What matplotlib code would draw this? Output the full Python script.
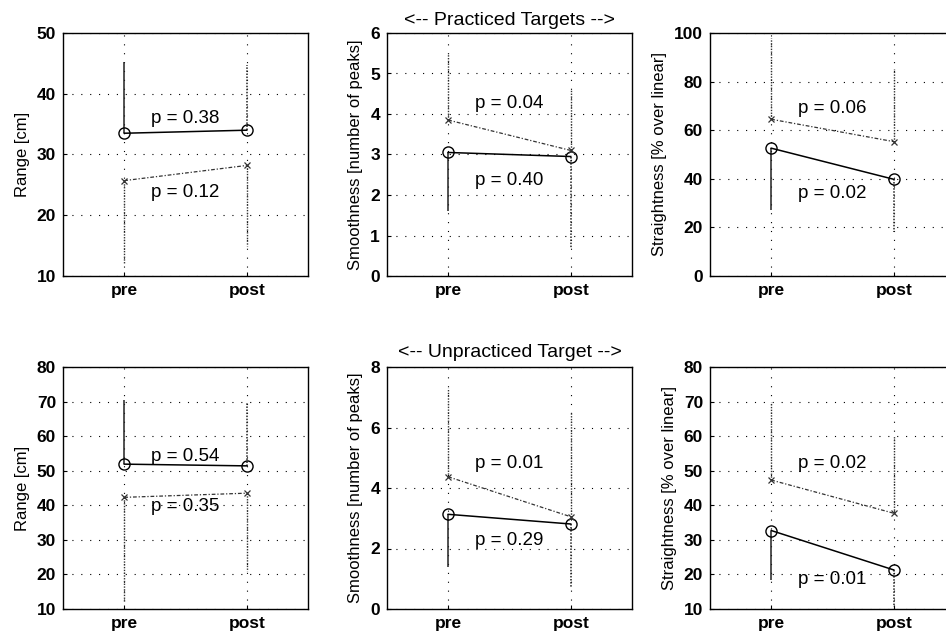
import numpy as np
import matplotlib.pyplot as plt

plt.rcParams['font.family'] = ['Liberation Sans', 'DejaVu Sans']

phases = ['pre', 'post']
xpos = [1, 2]

# practiced targets (top row)
range_prac_o = [33.5, 34.0]
range_prac_o_bar = [45.3, 44.7]
range_prac_x = [25.7, 28.2]
range_prac_x_bar = [12.0, 15.0]
range_prac_p = ['p = 0.38', 'p = 0.12']
range_prac_py = [36.0, 23.7]

smooth_prac_o = [3.05, 2.95]
smooth_prac_o_bar = [1.6, 0.7]
smooth_prac_x = [3.85, 3.1]
smooth_prac_x_bar = [5.5, 4.6]
smooth_prac_p = ['p = 0.40', 'p = 0.04']
smooth_prac_py = [2.37, 4.27]

straight_prac_o = [52.6, 39.8]
straight_prac_o_bar = [27.2, 18.2]
straight_prac_x = [64.5, 55.3]
straight_prac_x_bar = [98.0, 85.0]
straight_prac_p = ['p = 0.02', 'p = 0.06']
straight_prac_py = [34.0, 69.0]

# unpracticed target (bottom row)
range_unp_o = [51.9, 51.4]
range_unp_o_bar = [70.5, 70.0]
range_unp_x = [42.3, 43.5]
range_unp_x_bar = [12.0, 21.0]
range_unp_p = ['p = 0.54', 'p = 0.35']
range_unp_py = [54.0, 39.6]

smooth_unp_o = [3.13, 2.81]
smooth_unp_o_bar = [1.4, 0.7]
smooth_unp_x = [4.37, 3.05]
smooth_unp_x_bar = [7.3, 6.5]
smooth_unp_p = ['p = 0.29', 'p = 0.01']
smooth_unp_py = [2.28, 4.82]

straight_unp_o = [32.7, 21.3]
straight_unp_o_bar = [18.4, 10.5]
straight_unp_x = [47.3, 37.7]
straight_unp_x_bar = [70.0, 60.0]
straight_unp_p = ['p = 0.01', 'p = 0.02']
straight_unp_py = [18.4, 52.0]

ylabels = ['Range [cm]', 'Smoothness [number of peaks]', 'Straightness [% over linear]']
ylims = [(10, 50), (0, 6), (0, 100), (10, 80), (0, 8), (10, 80)]
ysteps = [10, 1, 20, 10, 2, 10]

panels = [
    (range_prac_o, range_prac_o_bar, range_prac_x, range_prac_x_bar, range_prac_p, range_prac_py),
    (smooth_prac_o, smooth_prac_o_bar, smooth_prac_x, smooth_prac_x_bar, smooth_prac_p, smooth_prac_py),
    (straight_prac_o, straight_prac_o_bar, straight_prac_x, straight_prac_x_bar, straight_prac_p, straight_prac_py),
    (range_unp_o, range_unp_o_bar, range_unp_x, range_unp_x_bar, range_unp_p, range_unp_py),
    (smooth_unp_o, smooth_unp_o_bar, smooth_unp_x, smooth_unp_x_bar, smooth_unp_p, smooth_unp_py),
    (straight_unp_o, straight_unp_o_bar, straight_unp_x, straight_unp_x_bar, straight_unp_p, straight_unp_py),
]

W, H = 946, 634
fig = plt.figure(figsize=(W / 100, H / 100), dpi=100)

lefts = [63, 387, 710]
tops = [33, 367]
heights = [243, 242]
width = 245

for i, (o, o_bar, xs, x_bar, ptxt, py) in enumerate(panels):
    row, col = divmod(i, 3)
    ax = fig.add_axes([lefts[col] / W, 1 - (tops[row] + heights[row]) / H,
                       width / W, heights[row] / H])
    ax.set_xlim(0.5, 2.5)
    lo, hi = ylims[i]
    ax.set_ylim(lo, hi)
    ax.set_yticks(np.arange(lo, hi + 0.01, ysteps[i]))
    ax.set_xticks(xpos)
    ax.set_xticklabels(phases)
    ax.grid(True, color='black', linestyle=(0, (1, 7)), linewidth=0.8)
    ax.set_axisbelow(True)

    # one-sided spread bars
    ax.vlines(xpos[0], o[0], o_bar[0], color='#222222', linewidth=1.1)
    ax.vlines(xpos[1], o[1], o_bar[1], color='#222222', linewidth=1.1, linestyle=(0, (1, 1)))
    ax.vlines(xpos, xs, x_bar, color='#333333', linewidth=1.0, linestyle=(0, (1, 1)))

    ax.plot(xpos, o, color='black', linewidth=1.1, marker='o', markersize=8,
            markerfacecolor='none', markeredgecolor='black', markeredgewidth=1.0)
    ax.plot(xpos, xs, color='#333333', linewidth=0.9, linestyle=(0, (3, 1.5, 1, 1.5)),
            marker='x', markersize=5, markeredgewidth=0.9)

    for t, yy in zip(ptxt, py):
        ax.text(1.5, yy, t, ha='center', va='center', fontsize=13.5)

    ax.set_ylabel(ylabels[col], fontsize=12, labelpad=5)
    ax.tick_params(direction='in', length=3, labelsize=12.5, pad=5)
    for lab in ax.get_xticklabels() + ax.get_yticklabels():
        lab.set_fontweight('bold')
    for sp in ax.spines.values():
        sp.set_linewidth(1.0)

    if i == 1:
        ax.set_title('<-- Practiced Targets -->', fontsize=14, pad=6)
    if i == 4:
        ax.set_title('<-- Unpracticed Target -->', fontsize=14, pad=7)

fig.savefig('out.png', dpi=100)
